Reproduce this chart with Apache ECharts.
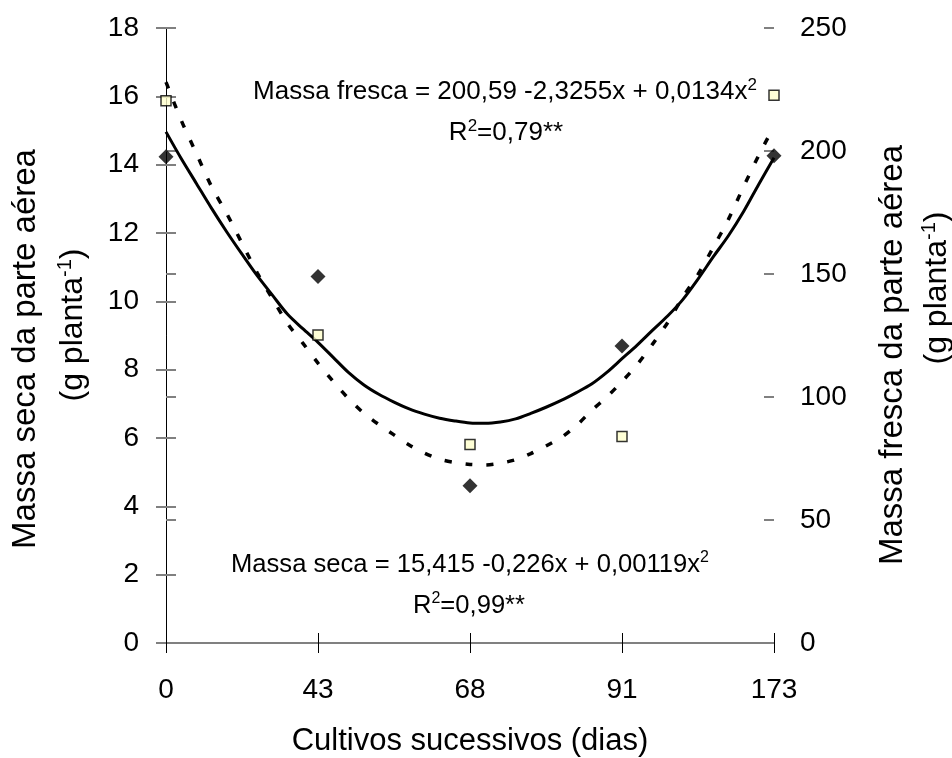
<!DOCTYPE html>
<html>
<head>
<meta charset="utf-8">
<script src="https://cdn.jsdelivr.net/npm/echarts@6/dist/echarts.min.js"></script>
<style>
html,body{margin:0;padding:0;background:#fff;}
#chart{width:952px;height:758px;}
</style>
</head>
<body>
<div id="chart"></div>
<script>
// Category tick labels (days of successive cultivation)
const categories = ['0', '43', '68', '91', '173'];
const catPos = [0, 1, 2, 3, 4];
// Observed points
const massaSeca = [14.23, 10.73, 4.60, 8.69, 14.26];       // left axis (g planta-1)
const massaFresca = [220.4, 125.2, 80.7, 83.9, 222.7];     // right axis (g planta-1)
// Fitted curves at category positions
const curvePos = [0,0.1,0.2,0.3,0.4,0.5,0.6,0.7,0.8,0.9,1.0,1.1,1.2,1.3,1.4,1.5,1.6,1.7,1.8,1.9,2.0,
                  2.1,2.2,2.3,2.4,2.5,2.6,2.7,2.8,2.9,3.0,3.1,3.2,3.3,3.4,3.5,3.6,3.7,3.8,3.9,4.0];
const secaFit = [14.96,14.18,13.45,12.72,12.03,11.38,10.75,10.18,9.62,9.2,8.8,8.36,7.92,7.56,7.28,7.05,6.85,6.7,6.58,6.5,6.44,
                 6.43,6.47,6.56,6.72,6.9,7.1,7.33,7.58,7.92,8.32,8.72,9.15,9.57,10.05,10.65,11.3,11.92,12.63,13.43,14.2];
const frescaFit = [228,212.5,199,185.5,174.5,162.5,150.5,140,129.8,121.9,113.8,106.3,99.4,93.5,88.8,84.6,80.5,77.2,74.7,73.4,72.6,
                   72.4,73.1,74.5,77,80.1,83.5,88.4,94.5,100,106.3,113.2,121.4,130.2,140.6,149.8,160.8,172.2,185.5,198.3,210];

const FONT = '"Liberation Sans", Arial, sans-serif';

function pairs(xs, ys){ return xs.map((x,i)=>[x, ys[i]]); }

const chart = echarts.init(document.getElementById('chart'), null, {renderer:'canvas'});

const tickGray = '#808080';

function eqText(x, y, main, tail, size){
  return {type:'text', x:x, y:y, z:10, style:{
    text:'{a|' + main + '}{s|2}' + (tail ? '{a|' + tail + '}' : ''),
    align:'center', verticalAlign:'middle',
    rich:{a:{fontFamily:FONT, fontSize:size, lineHeight:30, fill:'#000', color:'#000'},
          s:{fontFamily:FONT, fontSize:Math.round(size*0.64), lineHeight:20, verticalAlign:'top', fill:'#000', color:'#000'}}}};
}
function unitText(x, y){
  return {type:'text', x:x, y:y, rotation:Math.PI/2, z:10, style:{
    text:'{a|(g planta}{s|-1}{a|)}', align:'center', verticalAlign:'middle',
    rich:{a:{fontFamily:FONT, fontSize:32, lineHeight:36, fill:'#000', color:'#000'},
          s:{fontFamily:FONT, fontSize:20, lineHeight:23, verticalAlign:'top', fill:'#000', color:'#000'}}}};
}

const option = {
  backgroundColor:'#fff',
  animation:false,
  grid:{left:166, right:178, top:28, bottom:115, containLabel:false},
  xAxis:[
    {type:'value', min:0, max:4, interval:1, position:'bottom',
     axisLine:{show:true, lineStyle:{color:tickGray, width:2}},
     axisTick:{show:true, inside:false, length:10, lineStyle:{color:'#000', width:1}},
     axisLabel:{fontFamily:FONT, fontSize:28, color:'#000', margin:33, showMinLabel:true, showMaxLabel:true,
                formatter:(v)=>categories[catPos.indexOf(v)] ?? ''},
     splitLine:{show:false}},
    {type:'value', min:0, max:4, interval:1, position:'bottom',
     axisLine:{show:false}, axisLabel:{show:false},
     axisTick:{show:true, inside:true, length:10, lineStyle:{color:'#000', width:1}},
     splitLine:{show:false}}
  ],
  yAxis:[
    {type:'value', min:0, max:18, interval:2, position:'left', splitLine:{show:false},
      axisLine:{show:true, lineStyle:{color:'#000', width:1}},
      axisTick:{show:true, inside:false, length:10, lineStyle:{color:tickGray, width:2}},
      axisLabel:{fontFamily:FONT, fontSize:28, color:'#000', margin:27}},
    {type:'value', min:0, max:250, interval:50, position:'right', splitLine:{show:false},
      axisLine:{show:true, lineStyle:{color:'#000', width:1}},
      axisTick:{show:true, inside:false, length:10, lineStyle:{color:tickGray, width:2}},
      axisLabel:{fontFamily:FONT, fontSize:28, color:'#000', margin:26}},
    {type:'value', min:0, max:18, interval:2, position:'left', splitLine:{show:false},
      axisLine:{show:false}, axisLabel:{show:false},
      axisTick:{show:true, inside:true, length:10, lineStyle:{color:tickGray, width:2}}},
    {type:'value', min:0, max:250, interval:50, position:'right', splitLine:{show:false},
      axisLine:{show:false}, axisLabel:{show:false},
      axisTick:{show:true, inside:true, length:10, lineStyle:{color:tickGray, width:2}}}
  ],
  series:[
    {name:'Ajuste massa seca', type:'line', xAxisIndex:0, yAxisIndex:0, data:pairs(curvePos, secaFit),
     showSymbol:false, smooth:0.3, lineStyle:{color:'#000', width:3}, z:2},
    {name:'Ajuste massa fresca', type:'line', xAxisIndex:0, yAxisIndex:1, data:pairs(curvePos, frescaFit),
     showSymbol:false, smooth:0.3, lineStyle:{color:'#000', width:3.5, type:[7,14]}, z:2},
    {name:'Massa seca', type:'scatter', xAxisIndex:0, yAxisIndex:0, data:pairs(catPos, massaSeca),
     symbol:'diamond', symbolSize:[15,15], itemStyle:{color:'#000'}, z:5},
    {name:'Massa fresca', type:'scatter', xAxisIndex:0, yAxisIndex:1, data:pairs(catPos, massaFresca),
     symbol:'rect', symbolSize:10, itemStyle:{color:'#FFFFCC', borderColor:'#000', borderWidth:1.5}, z:5}
  ],
  graphic:[
    eqText(505, 92, 'Massa fresca = 200,59 -2,3255x + 0,0134x', '', 26),
    eqText(506, 133, 'R', '=0,79**', 26),
    eqText(470, 565, 'Massa seca = 15,415 -0,226x + 0,00119x', '', 25.6),
    eqText(469, 606, 'R', '=0,99**', 25.6),
    {type:'text', x:470, y:741, z:10, style:{
      text:'Cultivos sucessivos (dias)', align:'center', verticalAlign:'middle',
      font:'31px ' + FONT, fill:'#000'}},
    {type:'text', x:26, y:349, rotation:Math.PI/2, z:10, style:{
      text:'Massa seca da parte aérea', align:'center', verticalAlign:'middle',
      font:'33px ' + FONT, fill:'#000'}},
    unitText(73, 325),
    {type:'text', x:893, y:355, rotation:Math.PI/2, z:10, style:{
      text:'Massa fresca da parte aérea', align:'center', verticalAlign:'middle',
      font:'33px ' + FONT, fill:'#000'}},
    unitText(937, 288)
  ]
};
chart.setOption(option);
</script>
</body>
</html>
